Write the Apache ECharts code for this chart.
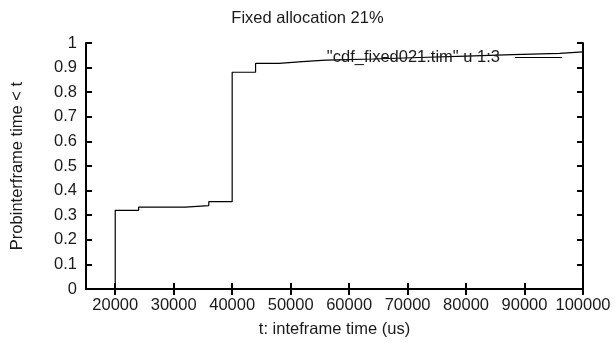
<!DOCTYPE html>
<html>
<head>
<meta charset="utf-8">
<script src="https://cdn.jsdelivr.net/npm/echarts@6/dist/echarts.min.js"></script>
<style>html,body{margin:0;padding:0;background:#fff}#c{width:615px;height:343px}</style>
</head>
<body>
<div id="c"></div>
<script>
const titleText = 'Fixed allocation 21%';
const seriesName = '"cdf_fixed021.tim" u 1:3';
const xAxisName = 't: inteframe time (us)';
const yAxisName = 'Probinterframe time < t';
const xTicks = [20000, 30000, 40000, 50000, 60000, 70000, 80000, 90000, 100000];
const tValues = [20000, 20000, 24000, 32000, 36000, 40000, 44000, 48000, 52000, 56000, 64000, 72000, 80000, 88000, 96000, 100000];
const pValues = [0, 0.32, 0.333, 0.339, 0.355, 0.881, 0.917, 0.924, 0.930, 0.935, 0.941, 0.947, 0.953, 0.958, 0.964, 0.966];

const data = tValues.map((t, i) => [t, pValues[i]]);
const font = 'Liberation Sans, Arial, sans-serif';
const fs = 16.5;
const txt = '#1a1a1a';
const chart = echarts.init(document.getElementById('c'));
const lineStyle = { color: '#000', width: 2 };
const tickStyle = { color: '#000', width: 2 };
chart.setOption({
  animation: false,
  title: { text: titleText, left: 'center', top: 5, textStyle: { fontFamily: font, fontSize: fs, fontWeight: 'normal', color: txt } },
  grid: { left: 86, right: 32, top: 43, bottom: 53 },
  legend: {
    right: 53, top: 49, padding: 0, align: 'right', itemGap: 0,
    itemWidth: 47, itemHeight: 1, icon: 'rect',
    textStyle: { fontFamily: font, fontSize: fs, color: txt, padding: [0, 10, 0, 0] },
    data: [{ name: seriesName, itemStyle: { color: '#000' } }]
  },
  xAxis: [{
    type: 'value', min: 15000, max: 100000, position: 'bottom',
    name: xAxisName, nameLocation: 'middle', nameGap: 32,
    nameTextStyle: { fontFamily: font, fontSize: fs, color: txt },
    axisLine: { lineStyle },
    axisTick: { inside: true, length: 6, customValues: xTicks, lineStyle: tickStyle },
    axisLabel: { customValues: xTicks, margin: 8, fontFamily: font, fontSize: fs, color: txt, formatter: v => String(v) },
    splitLine: { show: false }
  }, {
    type: 'value', min: 15000, max: 100000, position: 'top',
    axisLine: { lineStyle },
    axisTick: { inside: true, length: 6, customValues: xTicks, lineStyle: tickStyle },
    axisLabel: { show: false },
    splitLine: { show: false }
  }],
  yAxis: [{
    type: 'value', min: 0, max: 1, interval: 0.1, position: 'left',
    name: yAxisName, nameLocation: 'middle', nameGap: 60,
    nameTextStyle: { fontFamily: font, fontSize: fs, color: txt },
    axisLine: { show: true, lineStyle },
    axisTick: { show: true, inside: true, length: 6, lineStyle: tickStyle },
    axisLabel: { margin: 9, fontFamily: font, fontSize: fs, color: txt },
    splitLine: { show: false }
  }, {
    type: 'value', min: 0, max: 1, interval: 0.1, position: 'right',
    axisLine: { show: true, lineStyle },
    axisTick: { show: true, inside: true, length: 6, lineStyle: tickStyle },
    axisLabel: { show: false },
    splitLine: { show: false }
  }],
  series: [{
    name: seriesName, type: 'line', step: 'end', data: data,
    showSymbol: false, symbol: 'none',
    lineStyle: { color: '#000', width: 1.2 },
    itemStyle: { color: '#000' }
  }]
});
</script>
</body>
</html>
